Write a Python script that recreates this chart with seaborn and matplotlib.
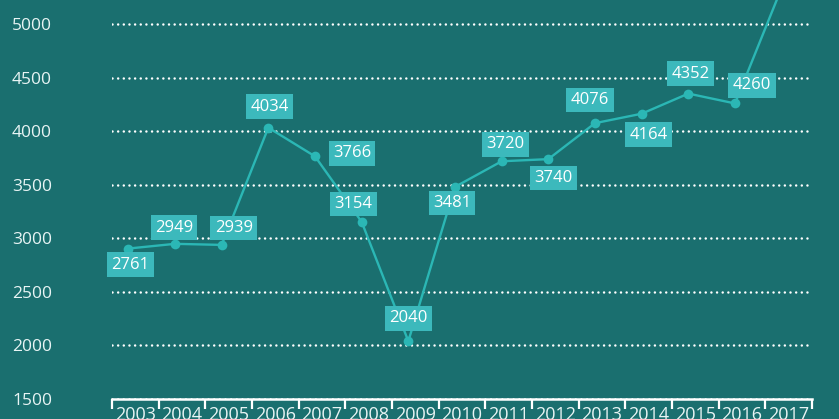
import numpy as np
import pandas as pd
import matplotlib
matplotlib.use("Agg")
import matplotlib.pyplot as plt
import seaborn as sns

# data
years = [2003, 2004, 2005, 2006, 2007, 2008, 2009, 2010, 2011, 2012, 2013, 2014, 2015, 2016, 2017]
values = [2905, 2949, 2939, 4034, 3766, 3154, 2040, 3481, 3720, 3740, 4076, 4164, 4352, 4260, 5340]
point_labels = ["2761", "2949", "2939", "4034", "3766", "3154", "2040", "3481", "3720", "3740",
                "4076", "4164", "4352", "4260", ""]
y_ticks = [1500, 2000, 2500, 3000, 3500, 4000, 4500, 5000]

# label box offsets from their point, in pixels (dx, dy up)
label_offsets = [(2, -16), (-1, 16), (12, 17), (1, 21), (37, 3), (-8, 18), (0, 23), (-3, -16),
                 (4, 17), (5, -19), (-5, 23), (7, -21), (2, 20), (17, 18), (0, 0)]

bg = "#1a6f6f"
line_col = "#2bb7b5"
box_col = "#3cb9bc"
txt_col = "#e8f4f4"

sns.set_theme(style="white")
plt.rcParams["font.family"] = ["Open Sans", "DejaVu Sans"]

df = pd.DataFrame({"idx": np.arange(len(years)), "value": values})

fig = plt.figure(figsize=(8.39, 4.19), dpi=100, facecolor=bg)
ax = fig.add_axes([112 / 839, 20 / 419, 700 / 839, 399 / 419])
ax.set_facecolor(bg)

sns.lineplot(data=df, x="idx", y="value", ax=ax, color=line_col, linewidth=1.7,
             marker="o", markersize=7, markeredgewidth=0, zorder=3)

for i, (v, lab) in enumerate(zip(values, point_labels)):
    if not lab:
        continue
    dx, dy = label_offsets[i]
    ax.annotate(lab, (i, v), xytext=(dx * 0.72, dy * 0.72), textcoords="offset points",
                ha="center", va="center", color="white", fontsize=12, zorder=5,
                bbox=dict(boxstyle="square,pad=0.26", fc=box_col, ec="none"))

ax.set_xlim(-0.35, 14.65)
ax.set_ylim(1500, 5226)

# y axis
ax.set_yticks(y_ticks)
ax.set_yticklabels([str(t) for t in y_ticks], ha="left")
ax.tick_params(axis="y", length=0, pad=72, labelsize=12.5, labelcolor=txt_col)
ax.yaxis.grid(True, color="white", linestyle=(0, (0.01, 2.25)), linewidth=1.8,
              dash_capstyle="round")
ax.set_axisbelow(True)

# x axis: ticks at category boundaries, labels between them
bounds = np.arange(len(years) + 1) - 0.35
ax.set_xticks(bounds)
ax.set_xticklabels([])
ax.set_xticks(np.arange(len(years)) + 0.15, minor=True)
ax.set_xticklabels([str(y) for y in years], minor=True)
ax.tick_params(axis="x", which="major", bottom=True, length=7, width=1.6, color="white",
               direction="out")
ax.tick_params(axis="x", which="minor", bottom=True, length=0, pad=5, labelsize=13,
               labelcolor=txt_col)

for s in ["top", "right", "left"]:
    ax.spines[s].set_visible(False)
ax.spines["bottom"].set_color("white")
ax.spines["bottom"].set_linewidth(1.8)

ax.set_xlabel("")
ax.set_ylabel("")

fig.savefig("out.png", dpi=100, facecolor=bg)
